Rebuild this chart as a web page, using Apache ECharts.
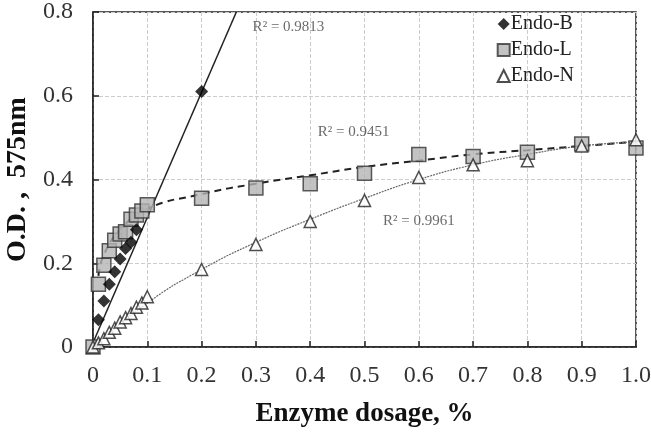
<!DOCTYPE html>
<html>
<head>
<meta charset="utf-8">
<script src="https://cdn.jsdelivr.net/npm/echarts@6/dist/echarts.min.js"></script>
<style>
  html, body { margin: 0; padding: 0; background: #fff; }
  #main { width: 651px; height: 436px; }
</style>
</head>
<body>
<div id="main"></div>
<script>
// dosage (%) for the low range cluster
var xLow = [0, 0.01, 0.02, 0.03, 0.04, 0.05, 0.06, 0.07, 0.08, 0.09, 0.1];
var xHigh = [0.2, 0.3, 0.4, 0.5, 0.6, 0.7, 0.8, 0.9, 1.0];

var endoB_x = [0.01, 0.02, 0.03, 0.04, 0.05, 0.06, 0.07, 0.08, 0.2];
var endoB_y = [0.065, 0.11, 0.15, 0.18, 0.21, 0.235, 0.25, 0.28, 0.61];

var endoL_y = [0.0, 0.15, 0.195, 0.23, 0.255, 0.27, 0.275, 0.305, 0.315, 0.325, 0.34,
               0.355, 0.38, 0.39, 0.415, 0.46, 0.455, 0.465, 0.485, 0.475];
var endoN_y = [0.0, 0.01, 0.02, 0.035, 0.045, 0.06, 0.07, 0.08, 0.095, 0.105, 0.12,
               0.185, 0.245, 0.3, 0.35, 0.405, 0.435, 0.445, 0.48, 0.495];

// trend lines
var trendB = [[0, 0.01], [0.264, 0.8]];
var trendL_x = [0.01, 0.02, 0.05, 0.1, 0.2, 0.3, 0.4, 0.5, 0.6, 0.7, 0.8, 0.9, 1.0];
var trendL_y = [0.17, 0.22, 0.28, 0.33, 0.365, 0.39, 0.41, 0.43, 0.445, 0.46, 0.47, 0.48, 0.49];
var trendN_x = [0, 0.1, 0.2, 0.3, 0.4, 0.5, 0.6, 0.7, 0.8, 0.9, 1.0];
var trendN_y = [0, 0.105, 0.185, 0.25, 0.305, 0.355, 0.4, 0.435, 0.46, 0.48, 0.49];

var r2Labels = [
  { text: 'R² = 0.9813', at: [0.36, 0.765] },
  { text: 'R² = 0.9451', at: [0.48, 0.513] },
  { text: 'R² = 0.9961', at: [0.60, 0.30] }
];

var xAll = xLow.concat(xHigh);
function zip(xs, ys) {
  return xs.map(function (x, i) { return [x, ys[i]]; });
}

var serif = 'Liberation Serif, Times New Roman, serif';
var myChart = echarts.init(document.getElementById('main'));

var option = {
  animation: false,
  backgroundColor: '#fff',
  grid: {
    left: 93, right: 15, top: 12, bottom: 89,
    outerBoundsMode: 'none', containLabel: false,
    show: true, borderColor: '#222', borderWidth: 1.5
  },
  legend: {
    data: [
      { name: 'Endo-B', icon: 'diamond' },
      { name: 'Endo-L', icon: 'rect' },
      { name: 'Endo-N', icon: 'triangle' }
    ],
    orient: 'vertical',
    right: 72,
    top: 9,
    itemWidth: 12,
    itemHeight: 12,
    itemGap: 6,
    textStyle: { fontFamily: serif, fontSize: 20, color: '#222', padding: [0, 0, 0, -4] }
  },
  xAxis: {
    type: 'value',
    min: 0, max: 1, interval: 0.1,
    name: 'Enzyme dosage, %',
    nameLocation: 'middle',
    nameGap: 54,
    nameTextStyle: { fontFamily: serif, fontSize: 27, fontWeight: 'bold', color: '#111' },
    axisLine: { show: true, lineStyle: { color: '#222', width: 1.5 } },
    axisTick: { inside: true, length: 6, lineStyle: { color: '#222', width: 1.5 } },
    axisLabel: {
      fontFamily: serif, fontSize: 24, color: '#333', margin: 17,
      formatter: function (v) { return v === 0 ? '0' : v.toFixed(1); }
    },
    splitLine: { show: true, lineStyle: { color: '#ccc', type: 'dashed', width: 1 } }
  },
  yAxis: {
    type: 'value',
    min: 0, max: 0.8, interval: 0.2,
    name: 'O.D. ,  575nm',
    nameLocation: 'middle',
    nameGap: 54,
    nameTextStyle: { fontFamily: serif, fontSize: 28, fontWeight: 'bold', color: '#111' },
    axisLine: { show: true, lineStyle: { color: '#222', width: 1.5 } },
    axisTick: { inside: true, length: 6, lineStyle: { color: '#222', width: 1.5 } },
    axisLabel: {
      fontFamily: serif, fontSize: 24, color: '#333', margin: 20,
      formatter: function (v) { return v === 0 ? '0' : v.toFixed(1); }
    },
    splitLine: { show: true, lineStyle: { color: '#ccc', type: 'dashed', width: 1 } }
  },
  series: [
    {
      name: 'trendB', type: 'line', data: trendB, showSymbol: false, silent: true,
      lineStyle: { color: '#222', width: 1.5 }, z: 1
    },
    {
      name: 'trendL', type: 'line', data: zip(trendL_x, trendL_y), smooth: true,
      showSymbol: false, silent: true,
      lineStyle: { color: '#222', width: 2, type: [7, 5] }, z: 1
    },
    {
      name: 'trendN', type: 'line', data: zip(trendN_x, trendN_y), smooth: true,
      showSymbol: false, silent: true,
      lineStyle: { color: '#666', width: 1.2, type: [2, 1] }, z: 1
    },
    {
      name: 'Endo-L', type: 'scatter', data: zip(xAll, endoL_y),
      symbol: 'rect', symbolSize: 14,
      itemStyle: { color: '#b4b4b4', borderColor: '#333', borderWidth: 1.5 }, z: 3
    },
    {
      name: 'Endo-N', type: 'scatter', data: zip(xAll, endoN_y),
      symbol: 'triangle', symbolSize: 12,
      itemStyle: { color: '#fff', borderColor: '#222', borderWidth: 1.5 }, z: 4
    },
    {
      name: 'Endo-B', type: 'scatter', data: zip(endoB_x, endoB_y),
      symbol: 'diamond', symbolSize: 13,
      itemStyle: { color: '#000' }, z: 5
    },
    {
      name: 'r2', type: 'scatter', silent: true, symbolSize: 0,
      data: r2Labels.map(function (d) { return { value: d.at, name: d.text }; }),
      label: {
        show: true, position: 'inside',
        formatter: function (p) { return p.name; },
        fontFamily: serif, fontSize: 15, color: '#444'
      }
    }
  ]
};
myChart.setOption(option);
window.addEventListener('resize', function () { myChart.resize(); });
</script>
</body>
</html>
